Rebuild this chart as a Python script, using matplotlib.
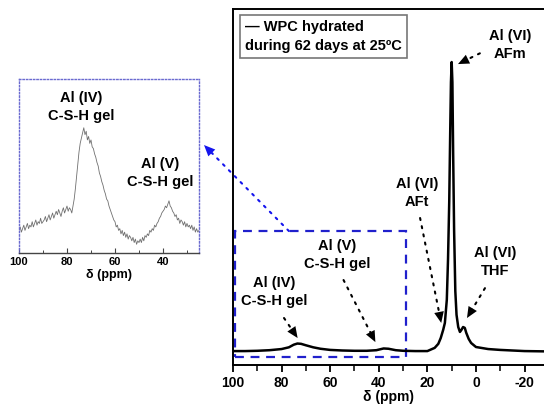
import numpy as np
import matplotlib
matplotlib.use('Agg')
import matplotlib.pyplot as plt
from matplotlib.patches import Rectangle

plt.rcParams['font.family'] = ['Liberation Sans', 'DejaVu Sans']
plt.rcParams['font.weight'] = 'bold'
plt.rcParams['axes.unicode_minus'] = False

# main 27Al spectrum (ppm, relative intensity)
main_ppm = [100, 95, 90, 85, 80, 77, 75, 73.5, 72, 70, 67, 64, 60, 55, 50, 45, 41, 38, 36,
            33, 30, 25, 20, 17, 15.5, 14.5, 13.5, 12.8, 12, 11.5, 11, 10.6, 10.3, 10, 9.7,
            9.4, 9, 8.5, 8, 7.3, 6.6, 6, 5.3, 4.6, 4, 3, 2, 0, -5, -10, -20, -28]
main_int = [0.3, 0.3, 0.4, 0.6, 1.0, 1.6, 2.5, 2.9, 2.8, 2.3, 1.6, 1.1, 0.7, 0.5, 0.4, 0.4, 0.6, 1.2, 1.1,
            0.6, 0.4, 0.3, 0.3, 1.4, 2.8, 4.8, 7.6, 10, 18, 32, 52, 76, 93, 100, 93,
            69, 42, 21, 12.8, 8.6, 6.9, 7.6, 8.6, 8.3, 6.6, 4.5, 3.1, 1.7, 1.0, 0.7, 0.3, 0.2]

# zoomed region 100-25 ppm, 0.5 ppm steps
inset_ppm = np.arange(100, 24.9, -0.5)
inset_int = [13, 15, 12, 14, 16, 13, 15, 17, 14, 16, 15, 18, 15, 17, 19, 16, 18, 17, 20, 17, 18,
             19, 21, 18, 20, 22, 19, 21, 23, 20, 22, 24, 22, 25, 23, 21, 24, 26, 23, 25, 27,
             24, 26, 25, 23, 27, 31, 37,
             44, 51, 58, 63, 66, 69, 72,
             68, 70, 65, 67, 63, 65, 61, 60, 57, 55, 52, 50, 46, 44,
             41, 39, 36, 34, 31, 30, 27, 25, 23, 21, 19, 18, 15, 16,
             13, 14, 11, 13, 10, 12, 9, 11, 8, 10, 9, 7, 9, 6, 8, 5, 7, 6,
             8, 6, 9, 7, 10, 9, 11, 10, 13, 12, 14, 13, 16, 15, 17, 18, 20, 21, 23, 24,
             25, 27, 26, 28, 30, 27, 26, 24, 23, 21,
             22, 19, 20, 17, 19, 18, 16, 18, 15, 17, 15, 16, 14, 16, 13, 15, 12, 14, 12, 13]

main_labels = ['Al (VI)\nAFm', 'Al (VI)\nAFt', 'Al (VI)\nTHF', 'Al (V)\nC-S-H gel', 'Al (IV)\nC-S-H gel']
label_pos = [(-14, 106), (24.2, 54.8), (-7.8, 31), (57, 33.4), (83.2, 20.7)]
arrow_tail = [(-1.6, 103), (23, 46.2), (-3.7, 22), (54.5, 24.8), (79, 11.7)]
arrow_tip = [(7.4, 99.3), (14.3, 10), (3.7, 11.7), (41.4, 3.4), (73.4, 4.8)]

inset_labels = ['Al (IV)\nC-S-H gel', 'Al (V)\nC-S-H gel']
inset_label_pos = [(74.2, 84), (41.3, 46)]


def dotted_arrow(ax, tip, tail, color='k', xycoords='data', textcoords='data'):
    ax.annotate('', xy=tip, xytext=tail, xycoords=xycoords, textcoords=textcoords,
                arrowprops=dict(arrowstyle='-', ls=(0, (1, 3)), lw=1.5, color=color,
                                shrinkA=0, shrinkB=7))
    ax.annotate('', xy=tip, xytext=tail, xycoords=xycoords, textcoords=textcoords,
                arrowprops=dict(arrowstyle='-|>,head_length=0.8,head_width=0.35', lw=0,
                                color=color, shrinkA=0, shrinkB=0))


fig = plt.figure(figsize=(5.44, 4.12), dpi=100)

# main panel
ax = fig.add_axes([0.4283, 0.1141, 0.5717, 0.8641])
ax.plot(main_ppm, main_int, color='k', lw=1.8)
ax.set_xlim(100, -28)
ax.set_ylim(-4.5, 118.3)
ax.set_yticks([])
ax.set_xticks([100, 80, 60, 40, 20, 0, -20])
ax.set_xticks([90, 70, 50, 30, 10, -10], minor=True)
ax.tick_params(axis='x', which='major', direction='out', length=5, width=1.3,
               labelsize=10, pad=3)
ax.tick_params(axis='x', which='minor', direction='out', length=4, width=1.1)
for lab in ax.get_xticklabels():
    lab.set_fontweight('bold')
ax.spines['right'].set_visible(False)
for s in ['left', 'top', 'bottom']:
    ax.spines[s].set_linewidth(1.4)
ax.set_xlabel('δ (ppm)', fontsize=10, fontweight='bold', labelpad=0)

ax.text(0.038, 0.968, '— WPC hydrated\nduring 62 days at 25ºC', transform=ax.transAxes,
        ha='left', va='top', fontsize=10.5, fontweight='bold', linespacing=1.45,
        bbox=dict(boxstyle='square,pad=0.35', fc='white', ec='#777777', lw=1.2))

for txt, pos, tail, tip in zip(main_labels, label_pos, arrow_tail, arrow_tip):
    ax.text(pos[0], pos[1], txt, ha='center', va='center', fontsize=10.5,
            fontweight='bold', linespacing=1.35)
    dotted_arrow(ax, tip, tail)

# region that is zoomed
ax.add_patch(Rectangle((99, -1.7), -70, 43.4, fill=False, ec='#2020cc', lw=1.6,
                       ls=(0, (4, 3)), clip_on=False))
dotted_arrow(ax, (0.375, 0.648), (77, 41.7), color='#1515ee',
             xycoords='figure fraction', textcoords='data')

# inset
axi = fig.add_axes([0.0349, 0.3859, 0.3309, 0.4223])
axi.plot(inset_ppm, inset_int, color='#707070', lw=0.6)
axi.set_xlim(100, 25)
axi.set_ylim(0, 100)
axi.set_yticks([])
axi.set_xticks([100, 80, 60, 40])
axi.set_xticks([90, 70, 50, 30], minor=True)
axi.tick_params(axis='x', which='major', direction='in', length=3.5, width=0.8,
                labelsize=8, pad=3, color='#444444')
axi.tick_params(axis='x', which='minor', direction='in', length=2.5, width=0.7,
                color='#444444')
for lab in axi.get_xticklabels():
    lab.set_fontweight('bold')
for s in ['left', 'top', 'right']:
    axi.spines[s].set_color('#6a6ad0')
    axi.spines[s].set_linestyle((0, (1, 1.5)))
    axi.spines[s].set_linewidth(1.0)
axi.spines['bottom'].set_color('#444444')
axi.spines['bottom'].set_linewidth(1.0)
axi.set_xlabel('δ (ppm)', fontsize=9, fontweight='bold', labelpad=1)
for txt, pos in zip(inset_labels, inset_label_pos):
    axi.text(pos[0], pos[1], txt, ha='center', va='center', fontsize=10.5,
             fontweight='bold', linespacing=1.3)

fig.savefig('out.png', dpi=100)
